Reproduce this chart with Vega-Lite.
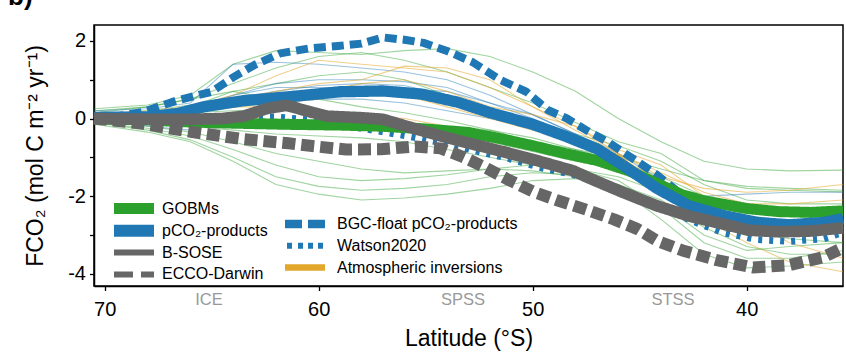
{
  "$schema": "https://vega.github.io/schema/vega-lite/v6.json",
  "width": 749,
  "height": 261,
  "autosize": {"type": "none"},
  "padding": {"left": 94, "top": 25, "right": 3, "bottom": 67},
  "background": "white",
  "title": {"text": "b)", "anchor": "start", "frame": "group", "fontSize": 26, "fontWeight": "bold", "dx": -86, "offset": 8, "dy": 14, "baseline": "alphabetic", "color": "black", "font": "Liberation Sans"},
  "config": {
    "view": {"stroke": "black", "strokeWidth": 1.5},
    "font": "Liberation Sans",
    "axis": {"domainColor": "black", "domainWidth": 1.5, "tickColor": "black", "tickWidth": 1.3, "labelColor": "black", "titleColor": "black", "grid": false, "labelFont": "Liberation Sans", "titleFont": "Liberation Sans", "titleFontWeight": "normal"},
    "legend": {"labelFont": "Liberation Sans", "labelColor": "black"}
  },
  "datasets": {
    "main": [
      {"series": "GOBMs", "lat": 70.5, "v": 0.0}, {"series": "GOBMs", "lat": 68, "v": -0.04}, {"series": "GOBMs", "lat": 66, "v": -0.09}, {"series": "GOBMs", "lat": 64, "v": -0.12}, {"series": "GOBMs", "lat": 61.5, "v": -0.15}, {"series": "GOBMs", "lat": 59, "v": -0.17}, {"series": "GOBMs", "lat": 57, "v": -0.2}, {"series": "GOBMs", "lat": 55, "v": -0.27}, {"series": "GOBMs", "lat": 53, "v": -0.36}, {"series": "GOBMs", "lat": 51.5, "v": -0.52}, {"series": "GOBMs", "lat": 50, "v": -0.7}, {"series": "GOBMs", "lat": 48.5, "v": -0.9}, {"series": "GOBMs", "lat": 47, "v": -1.08}, {"series": "GOBMs", "lat": 45.5, "v": -1.35}, {"series": "GOBMs", "lat": 44, "v": -1.72}, {"series": "GOBMs", "lat": 43, "v": -1.97}, {"series": "GOBMs", "lat": 42, "v": -2.12}, {"series": "GOBMs", "lat": 41, "v": -2.22}, {"series": "GOBMs", "lat": 40, "v": -2.32}, {"series": "GOBMs", "lat": 38.5, "v": -2.4}, {"series": "GOBMs", "lat": 37, "v": -2.42}, {"series": "GOBMs", "lat": 35.5, "v": -2.38},
      {"series": "pCO₂-products", "lat": 70.5, "v": 0.03}, {"series": "pCO₂-products", "lat": 68, "v": 0.04}, {"series": "pCO₂-products", "lat": 66.6, "v": 0.13}, {"series": "pCO₂-products", "lat": 65.4, "v": 0.3}, {"series": "pCO₂-products", "lat": 63.5, "v": 0.46}, {"series": "pCO₂-products", "lat": 61.2, "v": 0.57}, {"series": "pCO₂-products", "lat": 59, "v": 0.69}, {"series": "pCO₂-products", "lat": 57, "v": 0.71}, {"series": "pCO₂-products", "lat": 55.2, "v": 0.63}, {"series": "pCO₂-products", "lat": 53.5, "v": 0.42}, {"series": "pCO₂-products", "lat": 52, "v": 0.15}, {"series": "pCO₂-products", "lat": 50, "v": -0.15}, {"series": "pCO₂-products", "lat": 48.5, "v": -0.45}, {"series": "pCO₂-products", "lat": 47, "v": -0.78}, {"series": "pCO₂-products", "lat": 45.8, "v": -1.2}, {"series": "pCO₂-products", "lat": 44.2, "v": -1.8}, {"series": "pCO₂-products", "lat": 42.7, "v": -2.25}, {"series": "pCO₂-products", "lat": 41.1, "v": -2.5}, {"series": "pCO₂-products", "lat": 39.5, "v": -2.68}, {"series": "pCO₂-products", "lat": 38, "v": -2.74}, {"series": "pCO₂-products", "lat": 36.4, "v": -2.68}, {"series": "pCO₂-products", "lat": 35.5, "v": -2.58},
      {"series": "B-SOSE", "lat": 70.5, "v": 0.0}, {"series": "B-SOSE", "lat": 68, "v": -0.02}, {"series": "B-SOSE", "lat": 66, "v": -0.02}, {"series": "B-SOSE", "lat": 64.5, "v": 0.0}, {"series": "B-SOSE", "lat": 63.5, "v": 0.06}, {"series": "B-SOSE", "lat": 62.4, "v": 0.26}, {"series": "B-SOSE", "lat": 61.5, "v": 0.34}, {"series": "B-SOSE", "lat": 60.4, "v": 0.17}, {"series": "B-SOSE", "lat": 59.6, "v": 0.06}, {"series": "B-SOSE", "lat": 58, "v": 0.02}, {"series": "B-SOSE", "lat": 57, "v": -0.02}, {"series": "B-SOSE", "lat": 55.9, "v": -0.2}, {"series": "B-SOSE", "lat": 54.3, "v": -0.45}, {"series": "B-SOSE", "lat": 52.8, "v": -0.66}, {"series": "B-SOSE", "lat": 51.2, "v": -0.88}, {"series": "B-SOSE", "lat": 49.7, "v": -1.1}, {"series": "B-SOSE", "lat": 48.1, "v": -1.35}, {"series": "B-SOSE", "lat": 47.3, "v": -1.55}, {"series": "B-SOSE", "lat": 45.8, "v": -1.9}, {"series": "B-SOSE", "lat": 44.2, "v": -2.25}, {"series": "B-SOSE", "lat": 42.65, "v": -2.52}, {"series": "B-SOSE", "lat": 41.1, "v": -2.72}, {"series": "B-SOSE", "lat": 39.9, "v": -2.88}, {"series": "B-SOSE", "lat": 38.5, "v": -2.92}, {"series": "B-SOSE", "lat": 37, "v": -2.9}, {"series": "B-SOSE", "lat": 35.5, "v": -2.82},
      {"series": "ECCO-Darwin", "lat": 70.5, "v": 0.0}, {"series": "ECCO-Darwin", "lat": 68.4, "v": -0.12}, {"series": "ECCO-Darwin", "lat": 66, "v": -0.34}, {"series": "ECCO-Darwin", "lat": 63.7, "v": -0.52}, {"series": "ECCO-Darwin", "lat": 61.4, "v": -0.64}, {"series": "ECCO-Darwin", "lat": 60.3, "v": -0.71}, {"series": "ECCO-Darwin", "lat": 58.7, "v": -0.8}, {"series": "ECCO-Darwin", "lat": 57.1, "v": -0.79}, {"series": "ECCO-Darwin", "lat": 55.5, "v": -0.72}, {"series": "ECCO-Darwin", "lat": 54.3, "v": -0.77}, {"series": "ECCO-Darwin", "lat": 53.3, "v": -0.98}, {"series": "ECCO-Darwin", "lat": 52.3, "v": -1.24}, {"series": "ECCO-Darwin", "lat": 51.2, "v": -1.56}, {"series": "ECCO-Darwin", "lat": 50, "v": -1.88}, {"series": "ECCO-Darwin", "lat": 48.9, "v": -2.1}, {"series": "ECCO-Darwin", "lat": 47.5, "v": -2.35}, {"series": "ECCO-Darwin", "lat": 46.2, "v": -2.6}, {"series": "ECCO-Darwin", "lat": 45.1, "v": -2.85}, {"series": "ECCO-Darwin", "lat": 44.2, "v": -3.15}, {"series": "ECCO-Darwin", "lat": 43, "v": -3.4}, {"series": "ECCO-Darwin", "lat": 41.4, "v": -3.65}, {"series": "ECCO-Darwin", "lat": 39.7, "v": -3.84}, {"series": "ECCO-Darwin", "lat": 38, "v": -3.78}, {"series": "ECCO-Darwin", "lat": 36.4, "v": -3.57}, {"series": "ECCO-Darwin", "lat": 35.5, "v": -3.33},
      {"series": "BGC-float pCO₂-products", "lat": 70.5, "v": 0.0}, {"series": "BGC-float pCO₂-products", "lat": 69.5, "v": 0.05}, {"series": "BGC-float pCO₂-products", "lat": 68.2, "v": 0.17}, {"series": "BGC-float pCO₂-products", "lat": 66.6, "v": 0.47}, {"series": "BGC-float pCO₂-products", "lat": 65, "v": 0.69}, {"series": "BGC-float pCO₂-products", "lat": 64, "v": 1.06}, {"series": "BGC-float pCO₂-products", "lat": 63, "v": 1.38}, {"series": "BGC-float pCO₂-products", "lat": 61.8, "v": 1.68}, {"series": "BGC-float pCO₂-products", "lat": 60.4, "v": 1.81}, {"series": "BGC-float pCO₂-products", "lat": 59.1, "v": 1.87}, {"series": "BGC-float pCO₂-products", "lat": 58, "v": 1.93}, {"series": "BGC-float pCO₂-products", "lat": 57, "v": 2.09}, {"series": "BGC-float pCO₂-products", "lat": 56, "v": 2.03}, {"series": "BGC-float pCO₂-products", "lat": 55.1, "v": 1.95}, {"series": "BGC-float pCO₂-products", "lat": 54, "v": 1.74}, {"series": "BGC-float pCO₂-products", "lat": 52.8, "v": 1.45}, {"series": "BGC-float pCO₂-products", "lat": 51.5, "v": 0.99}, {"series": "BGC-float pCO₂-products", "lat": 50.3, "v": 0.69}, {"series": "BGC-float pCO₂-products", "lat": 49.3, "v": 0.22}, {"series": "BGC-float pCO₂-products", "lat": 48.4, "v": 0.0}, {"series": "BGC-float pCO₂-products", "lat": 47.5, "v": -0.3}, {"series": "BGC-float pCO₂-products", "lat": 46.5, "v": -0.6}, {"series": "BGC-float pCO₂-products", "lat": 45, "v": -1.15}, {"series": "BGC-float pCO₂-products", "lat": 44.2, "v": -1.45}, {"series": "BGC-float pCO₂-products", "lat": 43.4, "v": -1.8}, {"series": "BGC-float pCO₂-products", "lat": 42.6, "v": -2.2}, {"series": "BGC-float pCO₂-products", "lat": 41.1, "v": -2.5}, {"series": "BGC-float pCO₂-products", "lat": 39.5, "v": -2.68}, {"series": "BGC-float pCO₂-products", "lat": 38, "v": -2.74}, {"series": "BGC-float pCO₂-products", "lat": 36.4, "v": -2.68}, {"series": "BGC-float pCO₂-products", "lat": 35.5, "v": -2.58},
      {"series": "Watson2020", "lat": 70.5, "v": 0.02}, {"series": "Watson2020", "lat": 68, "v": 0.02}, {"series": "Watson2020", "lat": 66, "v": 0.04}, {"series": "Watson2020", "lat": 64, "v": 0.05}, {"series": "Watson2020", "lat": 62, "v": 0.04}, {"series": "Watson2020", "lat": 60.3, "v": -0.04}, {"series": "Watson2020", "lat": 59, "v": -0.17}, {"series": "Watson2020", "lat": 57.5, "v": -0.3}, {"series": "Watson2020", "lat": 55.9, "v": -0.45}, {"series": "Watson2020", "lat": 54.3, "v": -0.62}, {"series": "Watson2020", "lat": 52.8, "v": -0.82}, {"series": "Watson2020", "lat": 51.2, "v": -1.02}, {"series": "Watson2020", "lat": 49.7, "v": -1.26}, {"series": "Watson2020", "lat": 48.1, "v": -1.45}, {"series": "Watson2020", "lat": 47.3, "v": -1.59}, {"series": "Watson2020", "lat": 45.8, "v": -1.84}, {"series": "Watson2020", "lat": 44.2, "v": -2.23}, {"series": "Watson2020", "lat": 42.65, "v": -2.62}, {"series": "Watson2020", "lat": 41.1, "v": -2.95}, {"series": "Watson2020", "lat": 39.5, "v": -3.12}, {"series": "Watson2020", "lat": 38, "v": -3.17}, {"series": "Watson2020", "lat": 36.4, "v": -3.1}, {"series": "Watson2020", "lat": 35.5, "v": -2.94},
      {"series": "Atmospheric inversions", "lat": 70.5, "v": 0.0}, {"series": "Atmospheric inversions", "lat": 68, "v": 0.08}, {"series": "Atmospheric inversions", "lat": 66, "v": 0.25}, {"series": "Atmospheric inversions", "lat": 64, "v": 0.45}, {"series": "Atmospheric inversions", "lat": 62, "v": 0.56}, {"series": "Atmospheric inversions", "lat": 60, "v": 0.64}, {"series": "Atmospheric inversions", "lat": 58, "v": 0.68}, {"series": "Atmospheric inversions", "lat": 56, "v": 0.64}, {"series": "Atmospheric inversions", "lat": 54, "v": 0.45}, {"series": "Atmospheric inversions", "lat": 52, "v": 0.12}, {"series": "Atmospheric inversions", "lat": 50, "v": -0.18}, {"series": "Atmospheric inversions", "lat": 48, "v": -0.52}, {"series": "Atmospheric inversions", "lat": 46, "v": -1.0}, {"series": "Atmospheric inversions", "lat": 44, "v": -1.85}, {"series": "Atmospheric inversions", "lat": 42, "v": -2.4}, {"series": "Atmospheric inversions", "lat": 40, "v": -2.72}, {"series": "Atmospheric inversions", "lat": 38, "v": -2.86}, {"series": "Atmospheric inversions", "lat": 36.5, "v": -2.85}, {"series": "Atmospheric inversions", "lat": 35.5, "v": -2.78}
    ],
    "thinG": [
      {"lat": 70.5, "g1": 0.25, "g2": 0.2, "g3": 0.15, "g4": 0.1, "g5": 0.05, "g6": 0.0, "g7": -0.05, "g8": -0.1, "g9": -0.1, "g10": -0.15, "g11": 0.1},
      {"lat": 68, "g1": 0.35, "g2": 0.3, "g3": 0.3, "g4": 0.2, "g5": 0.1, "g6": -0.1, "g7": -0.2, "g8": -0.25, "g9": -0.3, "g10": -0.35, "g11": 0.15},
      {"lat": 66, "g1": 0.6, "g2": 0.5, "g3": 0.5, "g4": 0.35, "g5": 0.15, "g6": -0.2, "g7": -0.35, "g8": -0.45, "g9": -0.55, "g10": -0.6, "g11": 0.3},
      {"lat": 64, "g1": 1.4, "g2": 0.9, "g3": 0.7, "g4": 0.5, "g5": 0.2, "g6": -0.3, "g7": -0.6, "g8": -0.8, "g9": -1.0, "g10": -1.1, "g11": 0.7},
      {"lat": 62, "g1": 1.75, "g2": 1.3, "g3": 0.9, "g4": 0.6, "g5": 0.25, "g6": -0.4, "g7": -0.9, "g8": -1.2, "g9": -1.5, "g10": -1.7, "g11": 0.5},
      {"lat": 60, "g1": 1.7, "g2": 1.6, "g3": 1.1, "g4": 0.5, "g5": 0.1, "g6": -0.45, "g7": -1.1, "g8": -1.5, "g9": -1.75, "g10": -1.95, "g11": 0.1},
      {"lat": 58, "g1": 1.65, "g2": 1.7, "g3": 1.2, "g4": 0.3, "g5": -0.1, "g6": -0.5, "g7": -1.3, "g8": -1.6, "g9": -1.85, "g10": -2.1, "g11": -0.2},
      {"lat": 56, "g1": 1.75, "g2": 1.5, "g3": 1.0, "g4": 0.15, "g5": -0.3, "g6": -0.6, "g7": -1.4, "g8": -1.55, "g9": -1.8, "g10": -2.05, "g11": -0.35},
      {"lat": 54, "g1": 1.8, "g2": 1.2, "g3": 0.6, "g4": -0.05, "g5": -0.45, "g6": -0.8, "g7": -1.35, "g8": -1.45, "g9": -1.7, "g10": -1.95, "g11": -0.3},
      {"lat": 52, "g1": 1.6, "g2": 0.8, "g3": 0.2, "g4": -0.3, "g5": -0.6, "g6": -1.0, "g7": -1.3, "g8": -1.3, "g9": -1.5, "g10": -1.8, "g11": -0.3},
      {"lat": 50, "g1": 1.2, "g2": 0.4, "g3": -0.1, "g4": -0.6, "g5": -0.85, "g6": -1.2, "g7": -1.35, "g8": -1.2, "g9": -1.4, "g10": -1.6, "g11": -0.5},
      {"lat": 48, "g1": 0.7, "g2": -0.1, "g3": -0.4, "g4": -0.8, "g5": -1.1, "g6": -1.3, "g7": -1.5, "g8": -1.3, "g9": -1.45, "g10": -1.55, "g11": -0.8},
      {"lat": 46, "g1": 0.0, "g2": -0.6, "g3": -0.7, "g4": -1.1, "g5": -1.3, "g6": -1.5, "g7": -1.7, "g8": -1.6, "g9": -1.8, "g10": -1.7, "g11": -1.0},
      {"lat": 44, "g1": -0.6, "g2": -0.9, "g3": -1.1, "g4": -1.5, "g5": -1.6, "g6": -1.9, "g7": -2.1, "g8": -2.3, "g9": -2.6, "g10": -2.2, "g11": -1.3},
      {"lat": 42, "g1": -1.1, "g2": -1.6, "g3": -1.7, "g4": -2.0, "g5": -2.1, "g6": -2.5, "g7": -2.8, "g8": -3.2, "g9": -3.5, "g10": -3.0, "g11": -1.6},
      {"lat": 40, "g1": -1.3, "g2": -1.8, "g3": -2.1, "g4": -2.4, "g5": -2.5, "g6": -2.9, "g7": -3.3, "g8": -3.6, "g9": -3.85, "g10": -3.4, "g11": -1.75},
      {"lat": 38, "g1": -1.35, "g2": -1.85, "g3": -2.2, "g4": -2.5, "g5": -2.65, "g6": -3.1, "g7": -3.5, "g8": -3.6, "g9": -3.8, "g10": -3.3, "g11": -1.8},
      {"lat": 35.5, "g1": -1.33, "g2": -1.89, "g3": -2.2, "g4": -2.5, "g5": -2.6, "g6": -3.2, "g7": -3.5, "g8": -3.4, "g9": -3.7, "g10": -3.2, "g11": -1.85}
    ],
    "thinB": [
      {"lat": 70.5, "b1": 0.2, "b2": 0.0, "b3": 0.0, "b4": 0.1, "b5": 0.0},
      {"lat": 68, "b1": 0.25, "b2": 0.1, "b3": -0.1, "b4": -0.2, "b5": 0.1},
      {"lat": 66, "b1": 0.4, "b2": 0.3, "b3": 0.2, "b4": -0.3, "b5": 0.2},
      {"lat": 64, "b1": 1.4, "b2": 0.6, "b3": 0.5, "b4": 0.1, "b5": 0.6},
      {"lat": 62, "b1": 1.45, "b2": 0.9, "b3": 0.7, "b4": 0.4, "b5": 0.8},
      {"lat": 60, "b1": 1.4, "b2": 1.0, "b3": 0.85, "b4": 0.5, "b5": 0.8},
      {"lat": 58, "b1": 1.3, "b2": 1.0, "b3": 0.9, "b4": 0.5, "b5": 0.8},
      {"lat": 56, "b1": 1.2, "b2": 0.95, "b3": 0.85, "b4": 0.4, "b5": 0.75},
      {"lat": 54, "b1": 1.0, "b2": 0.8, "b3": 0.6, "b4": 0.2, "b5": 0.7},
      {"lat": 52, "b1": 0.6, "b2": 0.4, "b3": 0.2, "b4": 0.0, "b5": 0.4},
      {"lat": 50, "b1": 0.1, "b2": 0.0, "b3": -0.1, "b4": -0.2, "b5": 0.1},
      {"lat": 48, "b1": -0.4, "b2": -0.5, "b3": -0.6, "b4": -0.6, "b5": -0.4},
      {"lat": 46, "b1": -1.0, "b2": -1.0, "b3": -1.1, "b4": -1.1, "b5": -0.9},
      {"lat": 44, "b1": -1.7, "b2": -1.7, "b3": -1.8, "b4": -1.7, "b5": -1.6},
      {"lat": 42, "b1": -2.0, "b2": -2.3, "b3": -2.4, "b4": -2.3, "b5": -2.1},
      {"lat": 40, "b1": -1.95, "b2": -2.6, "b3": -2.7, "b4": -2.6, "b5": -2.4},
      {"lat": 38, "b1": -1.9, "b2": -2.7, "b3": -2.75, "b4": -2.7, "b5": -2.5},
      {"lat": 35.5, "b1": -1.9, "b2": -2.6, "b3": -2.7, "b4": -2.6, "b5": -2.45}
    ],
    "thinO": [
      {"lat": 70.5, "o1": 0.1, "o2": 0.0, "o3": 0.0, "o4": 0.0, "o5": 0.0},
      {"lat": 68, "o1": 0.2, "o2": 0.1, "o3": 0.1, "o4": 0.05, "o5": 0.1},
      {"lat": 66, "o1": 0.3, "o2": 0.3, "o3": 0.2, "o4": 0.15, "o5": 0.2},
      {"lat": 64, "o1": 0.6, "o2": 0.5, "o3": 0.4, "o4": 0.3, "o5": 0.3},
      {"lat": 62, "o1": 1.1, "o2": 0.7, "o3": 0.55, "o4": 0.4, "o5": 0.3},
      {"lat": 60, "o1": 1.5, "o2": 0.9, "o3": 0.7, "o4": 0.5, "o5": 0.2},
      {"lat": 58, "o1": 1.4, "o2": 1.0, "o3": 0.9, "o4": 0.65, "o5": 0.1},
      {"lat": 56, "o1": 1.3, "o2": 1.35, "o3": 1.0, "o4": 0.6, "o5": 0.0},
      {"lat": 54, "o1": 1.2, "o2": 1.3, "o3": 0.7, "o4": 0.3, "o5": -0.2},
      {"lat": 52, "o1": 0.8, "o2": 1.0, "o3": 0.3, "o4": 0.0, "o5": -0.4},
      {"lat": 50, "o1": 0.3, "o2": 0.3, "o3": 0.1, "o4": -0.3, "o5": -0.6},
      {"lat": 48, "o1": -0.2, "o2": -0.3, "o3": -0.2, "o4": -0.5, "o5": -0.9},
      {"lat": 46, "o1": -0.9, "o2": -0.9, "o3": -0.8, "o4": -1.0, "o5": -1.3},
      {"lat": 44, "o1": -1.5, "o2": -1.4, "o3": -1.2, "o4": -1.6, "o5": -1.9},
      {"lat": 42, "o1": -1.8, "o2": -1.9, "o3": -2.0, "o4": -2.6, "o5": -2.5},
      {"lat": 40, "o1": -1.9, "o2": -2.2, "o3": -2.6, "o4": -3.2, "o5": -2.8},
      {"lat": 38, "o1": -1.85, "o2": -2.2, "o3": -3.2, "o4": -3.7, "o5": -2.9},
      {"lat": 35.5, "o1": -1.7, "o2": -2.1, "o3": -3.6, "o4": -3.95, "o5": -2.8}
    ],
    "dots": [{"lat": 60}, {"lat": 48.4}, {"lat": 39.4}]
  },
  "encoding": {
    "x": {"field": "lat", "type": "quantitative", "scale": {"domain": [70.5, 35.5], "nice": false, "zero": false},
      "axis": {"values": [70, 65.15, 60, 53.28, 50, 43.47, 40], "title": "Latitude (°S)", "labelExpr": "datum.value % 10 != 0 ? (datum.value > 60 ? 'ICE' : datum.value > 50 ? 'SPSS' : 'STSS') : datum.label",
        "labelColor": {"condition": {"test": "datum.value % 10 != 0", "value": "#999999"}, "value": "black"},
        "labelFontSize": {"condition": {"test": "datum.value % 10 != 0", "value": 16.5}, "value": 20},
        "labelBaseline": {"condition": {"test": "datum.value % 10 != 0", "value": "middle"}, "value": "top"},
        "tickOpacity": {"condition": {"test": "datum.value % 10 != 0", "value": 0}, "value": 1},
        "labelOverlap": false, "labelBound": false, "titleFontSize": 23, "tickSize": 4.5, "labelPadding": 9, "titlePadding": 8, "labelFlush": false}},
    "y": {"field": "v", "type": "quantitative", "scale": {"domain": [-4.317, 2.41], "nice": false, "zero": false}, "axis": {"values": [-4, -3, -2, -1, 0, 1, 2], "labelExpr": "datum.value % 2 == 0 ? (datum.value < 0 ? '-' + abs(datum.value) : '' + datum.value) : ''", "title": "FCO₂ (mol C m⁻² yr⁻¹)", "labelFontSize": 20, "titleFontSize": 23, "tickSize": 4.5, "labelPadding": 4, "titlePadding": 20, "labelFlush": false}}
  },
  "layer": [
    {"data": {"name": "thinG"}, "transform": [{"fold": ["g1", "g2", "g3", "g4", "g5", "g6", "g7", "g8", "g9", "g10", "g11"], "as": ["member", "v"]}], "mark": {"type": "line", "color": "#2ca02c", "strokeWidth": 1.1, "opacity": 0.45}, "encoding": {"detail": {"field": "member"}}},
    {"data": {"name": "thinB"}, "transform": [{"fold": ["b1", "b2", "b3", "b4", "b5"], "as": ["member", "v"]}], "mark": {"type": "line", "color": "#1f77b4", "strokeWidth": 1.1, "opacity": 0.45}, "encoding": {"detail": {"field": "member"}}},
    {"data": {"name": "thinO"}, "transform": [{"fold": ["o1", "o2", "o3", "o4", "o5"], "as": ["member", "v"]}], "mark": {"type": "line", "color": "#e3a82b", "strokeWidth": 1.1, "opacity": 0.55}, "encoding": {"detail": {"field": "member"}}},
    {"data": {"values": [{}]}, "mark": {"type": "rule", "color": "#555555", "strokeWidth": 1.3}, "encoding": {"x": null, "y": {"datum": 0}}},
    {"data": {"name": "main"}, "transform": [{"filter": {"field": "series", "oneOf": ["BGC-float pCO₂-products", "Watson2020", "Atmospheric inversions"]}}],
      "mark": {"type": "line", "strokeCap": "butt", "strokeJoin": "round"},
      "encoding": {
        "color": {"field": "series", "type": "nominal", "scale": {"domain": ["BGC-float pCO₂-products", "Watson2020", "Atmospheric inversions"], "range": ["#1f77b4", "#1f77b4", "#e3a82b"]},
          "legend": {"orient": "none", "legendX": 202, "legendY": 190, "title": null, "symbolType": "M-4,-0.6H4V0.6H-4Z", "symbolSize": 100, "labelFontSize": 16, "labelOffset": 23, "rowPadding": 5.3, "padding": 0, "labelLimit": 400,
            "encode": {"symbols": {"update": {
              "shape": {"signal": "datum.value === 'Watson2020' ? 'M-3.6,-0.6H-2.6V0.6H-3.6Z M-1.4,-0.6H-0.4V0.6H-1.4Z M0.6,-0.6H1.6V0.6H0.6Z M2.6,-0.6H3.6V0.6H2.6Z' : datum.value === 'Atmospheric inversions' ? 'M-4,-0.65H4V0.65H-4Z' : 'M-4,-0.85H-0.6V0.85H-4Z M0.6,-0.85H4V0.85H0.6Z'"},
              "fill": {"signal": "datum.value === 'Atmospheric inversions' ? '#e3a82b' : '#1f77b4'"},
              "fillOpacity": {"value": 1}, "opacity": {"value": 1},
              "strokeOpacity": {"value": 0}}}}}},
        "strokeDash": {"field": "series", "type": "nominal", "scale": {"domain": ["BGC-float pCO₂-products", "Watson2020", "Atmospheric inversions"], "range": [[12, 6], [4, 7], [1, 0]]}, "legend": null},
        "strokeWidth": {"field": "series", "type": "nominal", "scale": {"domain": ["BGC-float pCO₂-products", "Watson2020", "Atmospheric inversions"], "range": [8, 5.5, 5]}, "legend": null}
      }
    },
    {"data": {"name": "main"}, "transform": [{"filter": {"field": "series", "oneOf": ["GOBMs", "pCO₂-products", "B-SOSE", "ECCO-Darwin"]}}],
      "mark": {"type": "line", "strokeCap": "butt", "strokeJoin": "round"},
      "encoding": {
        "color": {"field": "series", "type": "nominal", "scale": {"domain": ["GOBMs", "pCO₂-products", "B-SOSE", "ECCO-Darwin"], "range": ["#2ca02c", "#1f77b4", "#666666", "#666666"]},
          "legend": {"orient": "none", "legendX": 29, "legendY": 173, "title": null, "symbolType": "M-4,-0.6H4V0.6H-4Z", "symbolSize": 100, "labelFontSize": 16, "labelOffset": 17, "rowPadding": 2.8, "padding": 0, "labelLimit": 400,
            "encode": {"symbols": {"update": {
              "shape": {"signal": "datum.value === 'GOBMs' ? 'M-4,-1.1H4V1.1H-4Z' : datum.value === 'B-SOSE' ? 'M-4,-0.6H4V0.6H-4Z' : datum.value === 'ECCO-Darwin' ? 'M-4,-0.6H-0.2V0.6H-4Z M1.4,-0.6H4V0.6H1.4Z' : 'M-4,-1.2H4V1.2H-4Z'"},
              "fill": {"signal": "datum.value === 'GOBMs' ? '#2ca02c' : datum.value === 'pCO₂-products' ? '#1f77b4' : '#666666'"},
              "fillOpacity": {"value": 1}, "opacity": {"value": 1},
              "strokeOpacity": {"value": 0}}}}}},
        "strokeDash": {"field": "series", "type": "nominal", "scale": {"domain": ["GOBMs", "pCO₂-products", "B-SOSE", "ECCO-Darwin"], "range": [[1, 0], [1, 0], [1, 0], [13, 6]]}, "legend": null},
        "strokeWidth": {"field": "series", "type": "nominal", "scale": {"domain": ["GOBMs", "pCO₂-products", "B-SOSE", "ECCO-Darwin"], "range": [11, 12, 4.5, 6.5]}, "legend": null}
      }
    },
    {"data": {"name": "dots"}, "mark": {"type": "point", "filled": true, "color": "black", "size": 80, "opacity": 1, "clip": false}, "encoding": {"y": {"datum": -4.25}}}
  ],
  "resolve": {"scale": {"color": "independent", "strokeDash": "independent", "strokeWidth": "independent"}}
}
